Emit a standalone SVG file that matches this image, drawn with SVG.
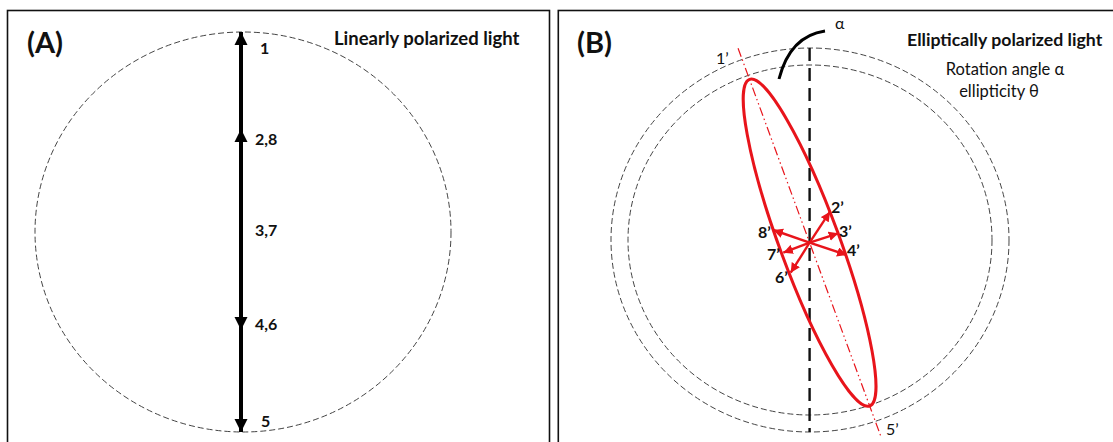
<svg xmlns="http://www.w3.org/2000/svg" width="1113" height="442" viewBox="0 0 1113 442">
<style>
.panel{fill:none;stroke:#111;stroke-width:1.6}
.guide{fill:none;stroke:#444;stroke-width:1;stroke-dasharray:6 3}
.lbl{font-family:Lato,"Open Sans",sans-serif;font-weight:bold;font-size:16px;fill:#111}
.nlbl{font-family:Lato,"Open Sans",sans-serif;font-size:16px;fill:#111}
.plbl{font-family:Lato,"Open Sans",sans-serif;font-weight:bold;font-size:29px;fill:#111}
.title{font-family:Lato,"Open Sans",sans-serif;font-weight:bold;font-size:18.5px;fill:#111}
.sub{font-family:Lato,"Open Sans",sans-serif;font-size:16.5px;fill:#111;text-anchor:middle}
.redarrow{stroke:#e8141b;stroke-width:2.4;fill:none;marker-end:url(#ra)}
</style>
<defs>
<marker id="ba" viewBox="0 0 10 10" refX="10" refY="5" markerWidth="3.3" markerHeight="3.3" orient="auto" markerUnits="strokeWidth"><path d="M0,0 L10,5 L0,10 Z" fill="#000"/></marker>
<marker id="ra" viewBox="0 0 10 10" refX="10" refY="5" markerWidth="4" markerHeight="4" orient="auto" markerUnits="strokeWidth"><path d="M0,0 L10,5 L0,10 Z" fill="#e8141b"/></marker>
</defs>
<rect width="1113" height="442" fill="#fff"/>
<g id="panelA">
<rect class="panel" x="7.5" y="10.5" width="542" height="450"/>
<text class="plbl" x="27" y="53">(A)</text>
<text class="title" x="334" y="45">Linearly polarized light</text>
<ellipse class="guide" cx="243" cy="232" rx="208" ry="200"/>
</g>
<g id="connectorsA">
<line x1="241" y1="232" x2="241" y2="32" stroke="#000" stroke-width="4" marker-end="url(#ba)"/>
<line x1="241" y1="232" x2="241" y2="129" stroke="#000" stroke-width="4" marker-end="url(#ba)"/>
<line x1="241" y1="232" x2="241" y2="330" stroke="#000" stroke-width="4" marker-end="url(#ba)"/>
<line x1="241" y1="232" x2="241" y2="432" stroke="#000" stroke-width="4" marker-end="url(#ba)"/>
</g>
<g id="labelsA">
<text class="lbl" x="260" y="54">1</text>
<text class="lbl" x="255" y="145">2,8</text>
<text class="lbl" x="255" y="236">3,7</text>
<text class="lbl" x="255" y="330">4,6</text>
<text class="lbl" x="261" y="427">5</text>
</g>
<g id="panelB">
<rect class="panel" x="558.3" y="10.5" width="600" height="450"/>
<text class="plbl" x="577" y="53">(B)</text>
<text class="title" x="907" y="46" style="font-size:17.7px">Elliptically polarized light</text>
<text class="sub" x="1005" y="75">Rotation angle  α</text>
<text class="sub" x="999" y="97">ellipticity θ</text>
<ellipse class="guide" cx="810" cy="240" rx="199" ry="192"/>
<ellipse class="guide" cx="810" cy="240" rx="182" ry="175"/>
<line x1="809.6" y1="48" x2="809.6" y2="432" stroke="#111" stroke-width="2.4" stroke-dasharray="13 7"/>
<path d="M779,79 Q790,36 825,31" fill="none" stroke="#000" stroke-width="3"/>
<text class="nlbl" x="835" y="29">α</text>
<g transform="rotate(-20.2 809.6 242.7)">
<line x1="809.6" y1="35.5" x2="809.6" y2="449.9" stroke="#e8141b" stroke-width="1.2" stroke-dasharray="9 3 1.5 3 1.5 3"/>
<ellipse cx="809.6" cy="242.7" rx="30" ry="174" fill="none" stroke="#e8141b" stroke-width="3"/>
</g>
</g>
<g id="connectorsB">
<line class="redarrow" x1="809.6" y1="242.7" x2="830" y2="211.7"/>
<line class="redarrow" x1="809.6" y1="242.7" x2="838.3" y2="233.3"/>
<line class="redarrow" x1="809.6" y1="242.7" x2="846.7" y2="255"/>
<line class="redarrow" x1="809.6" y1="242.7" x2="773.3" y2="230"/>
<line class="redarrow" x1="809.6" y1="242.7" x2="783.3" y2="252.7"/>
<line class="redarrow" x1="809.6" y1="242.7" x2="790.7" y2="272.7"/>
</g>
<g id="labelsB">
<text class="lbl" x="831" y="213">2’</text>
<text class="lbl" x="839" y="237">3’</text>
<text class="lbl" x="847" y="256">4’</text>
<text class="lbl" x="758" y="238">8’</text>
<text class="lbl" x="767" y="260">7’</text>
<text class="lbl" x="775" y="283">6’</text>
<text class="nlbl" x="716" y="64">1’</text>
<text class="nlbl" x="886" y="435">5’</text>
</g>
</svg>
